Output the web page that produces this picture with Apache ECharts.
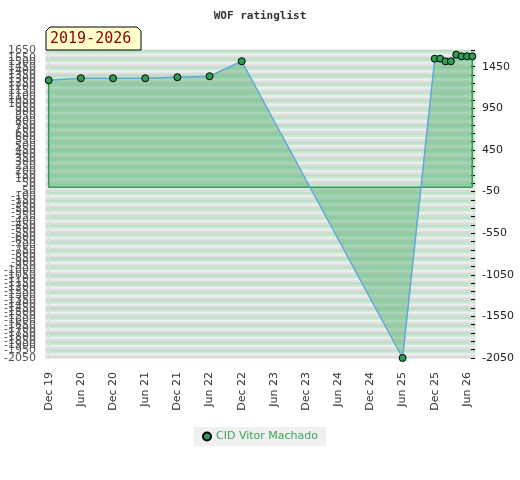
<!DOCTYPE html>
<html>
<head>
<meta charset="utf-8">
<script src="https://cdn.jsdelivr.net/npm/echarts@6/dist/echarts.min.js"></script>
<style>html,body{margin:0;padding:0;background:#fff}#c{width:520px;height:480px}</style>
</head>
<body>
<div id="c"></div>
<script>
const titleText = 'WOF ratinglist';
const periodText = '2019-2026';
const seriesName = 'CID Vitor Machado';
const dates = ['2019-12','2020-06','2020-12','2021-06','2021-12','2022-06','2022-12','2025-06',
               '2025-12','2026-01','2026-02','2026-03','2026-04','2026-05','2026-06','2026-07'];
const ratings = [1287,1311,1311,1311,1323,1335,1515,-2050,
                 1546,1546,1514,1514,1594,1574,1574,1574];
const monthNames = ['Jan','Feb','Mar','Apr','May','Jun','Jul','Aug','Sep','Oct','Nov','Dec'];
const yMin = -2050, yMax = 1650;
const rightLabels = [-2050,-1550,-1050,-550,-50,450,950,1450];
const xLabelMonths = [0,6,12,18,24,30,36,42,48,54,60,66,72,78];

function monthIndex(s){ const [y,m] = s.split('-').map(Number); return (y-2019)*12 + (m-1) - 11; }
function monthLabel(i){ const t = 11 + Math.round(i); return monthNames[t%12] + ' ' + String(19 + Math.floor(t/12)).padStart(2,'0'); }

const pts = dates.map((d,i)=>[monthIndex(d), ratings[i]]);
const first = pts[0], last = pts[pts.length-1];
const outline = [[first[0], first[1]],[first[0],0],[last[0],0],[last[0],last[1]]];
const rightTicks = [];
for (let v = yMin; v <= yMax; v += 100) rightTicks.push(v);

const stripeA = {type:'linear',x:0,y:0,x2:0,y2:1,colorStops:[{offset:0,color:'#b3dcbf'},{offset:1,color:'#d9eedf'}]};
const stripeB = {type:'linear',x:0,y:0,x2:0,y2:1,colorStops:[{offset:0,color:'#f3f3f3'},{offset:1,color:'#d0d3d0'}]};

const chart = echarts.init(document.getElementById('c'));
chart.setOption({
  animation:false,
  backgroundColor:'#fff',
  title:{text:titleText,left:'center',top:6,textStyle:{fontFamily:'DejaVu Sans Mono',fontWeight:'bold',fontSize:11,color:'#333'}},
  grid:{left:46,right:45,top:50,bottom:122,containLabel:false,show:true,borderColor:'#dcdcdc',borderWidth:1},
  legend:{bottom:34,left:'center',backgroundColor:'#f0f0f0',padding:[4,8,4,8],itemWidth:8,itemHeight:8,icon:'circle',
    data:[seriesName],textStyle:{color:'#3aa55a',fontSize:11,fontFamily:'DejaVu Sans'}},
  xAxis:{type:'value',min:-0.5,max:79.5,
    axisLine:{show:false},axisTick:{show:false},splitLine:{show:false},
    axisLabel:{customValues:xLabelMonths,rotate:90,margin:14,fontSize:11,color:'#333',fontFamily:'DejaVu Sans',
      formatter:v=>monthLabel(v)}},
  yAxis:[
    {type:'value',min:yMin,max:yMax,interval:50,position:'left',
      axisLine:{show:true,lineStyle:{color:'#dcdcdc'}},axisTick:{show:false},splitLine:{show:false},
      splitArea:{show:true,areaStyle:{color:[stripeB,stripeA]}},
      axisLabel:{fontSize:11,color:'#555',margin:10,fontFamily:'DejaVu Sans',hideOverlap:false,
        showMinLabel:true,showMaxLabel:true,formatter:v=>String(v)}},
    {type:'value',min:yMin,max:yMax,position:'right',
      axisLine:{show:false},splitLine:{show:false},
      axisTick:{show:true,inside:true,length:4,customValues:rightTicks,lineStyle:{color:'#000'}},
      axisLabel:{customValues:rightLabels,fontSize:11,color:'#222',margin:7,fontFamily:'DejaVu Sans',
        formatter:v=>String(v)}}
  ],
  series:[
    {type:'line',name:'outline',data:outline,symbol:'none',silent:true,z:2,
      lineStyle:{color:'#2e9a55',width:1.5},itemStyle:{color:'#2e9a55'}},
    {type:'line',name:seriesName,data:pts,z:3,symbol:'circle',symbolSize:7,
      lineStyle:{color:'#5fa8d8',width:1.5},
      itemStyle:{color:'#2f9d55',borderColor:'#000',borderWidth:1},
      areaStyle:{color:'rgba(60,170,95,0.55)'}}
  ],
  graphic:[
    {type:'polygon',shape:{points:[[46,50],[46,31],[50,27],[137,27],[141,31],[141,50]]},
      style:{fill:'#ffffcc',stroke:'#000',lineWidth:1},z:10},
    {type:'text',left:50,top:32,style:{text:periodText,fill:'#8b0000',fontSize:15,fontFamily:'DejaVu Sans Mono'},z:11}
  ]
});
</script>
</body>
</html>
